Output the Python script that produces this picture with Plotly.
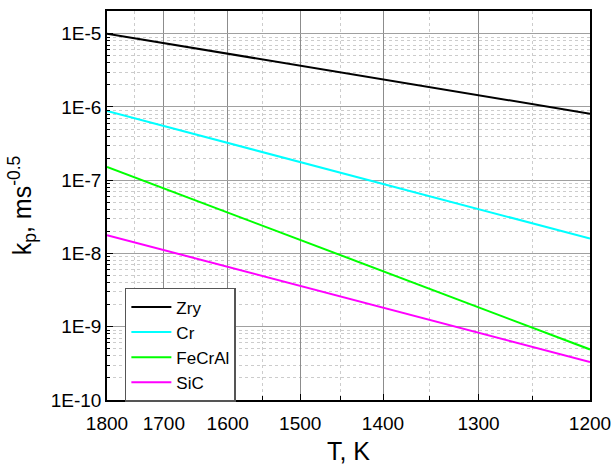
import plotly.graph_objects as go

# Temperatures (K) at which values were read
T = [1800, 1600, 1400, 1200]
zry = [1.0e-5, 5.34e-6, 2.33e-6, 8.1e-7]
cr = [8.8e-7, 3.24e-7, 9.0e-8, 1.6e-8]
fecral = [1.52e-7, 3.62e-8, 5.7e-9, 4.9e-10]
sic = [1.78e-8, 6.6e-9, 1.82e-9, 3.3e-10]

names = ["Zry", "Cr", "FeCrAl", "SiC"]
colors = ["#000000", "#00FFFF", "#00FF00", "#FF00FF"]
series = [zry, cr, fecral, sic]

x_major = [1800, 1700, 1600, 1500, 1400, 1300, 1200]
x_minor = [1750, 1650, 1550, 1450, 1350, 1250]
y_major = [1e-10, 1e-9, 1e-8, 1e-7, 1e-6, 1e-5]
y_labels = ["1E-10", "1E-9", "1E-8", "1E-7", "1E-6", "1E-5"]

inv = lambda t: 1000.0 / t

fig = go.Figure()
for n, c, s in zip(names, colors, series):
    fig.add_trace(go.Scatter(x=[inv(t) for t in T], y=s, mode="lines", name=n,
                             line=dict(color=c, width=2)))

y_minor = [m * 10.0 ** e for e in range(-10, -4) for m in range(2, 10)]

font = "Liberation Sans, Arial, sans-serif"
fig.update_layout(
    width=614, height=465,
    margin=dict(l=107, r=24, t=11, b=65, autoexpand=False),
    paper_bgcolor="white", plot_bgcolor="white",
    font=dict(family=font, size=18, color="black"),
    showlegend=True,
    legend=dict(x=0.037, y=0.288, xanchor="left", yanchor="top",
                bgcolor="white", bordercolor="#555555", borderwidth=1.5,
                font=dict(size=17), itemwidth=40, tracegroupgap=0),
    xaxis=dict(
        range=[inv(1800), inv(1200)], automargin=False,
        tickmode="array", tickvals=[inv(t) for t in x_major],
        ticktext=[str(t) for t in x_major],
        ticks="inside", ticklen=6, tickwidth=1, tickcolor="black",
        ticklabelstandoff=5,
        showline=True, linecolor="black", linewidth=1.5, mirror=True,
        showgrid=True, gridcolor="#8c8c8c", gridwidth=1,
        zeroline=False,
        minor=dict(tickmode="array", tickvals=[inv(t) for t in x_minor],
                   ticks="inside", ticklen=4, tickcolor="black",
                   showgrid=True, gridcolor="#cccccc", griddash="dot", gridwidth=1),
        title=dict(text="T, K", font=dict(size=25), standoff=16),
        tickfont=dict(size=19),
    ),
    yaxis=dict(
        type="log", range=[-10, -4.69], automargin=False,
        tickmode="array", tickvals=y_major, ticktext=y_labels,
        ticks="inside", ticklen=6, tickwidth=1, tickcolor="black",
        showline=True, linecolor="black", linewidth=1.5, mirror=True,
        showgrid=True, gridcolor="#a0a0a0", gridwidth=1,
        zeroline=False,
        minor=dict(tickmode="array", tickvals=y_minor,
                   ticks="inside", ticklen=3, tickcolor="black",
                   showgrid=True, gridcolor="#cccccc", griddash="dot", gridwidth=1),
        title=dict(text="k<sub>p</sub>, ms<sup>-0.5</sup>", font=dict(size=25), standoff=12),
        tickfont=dict(size=19),
    ),
)

fig.write_html("out.html")
